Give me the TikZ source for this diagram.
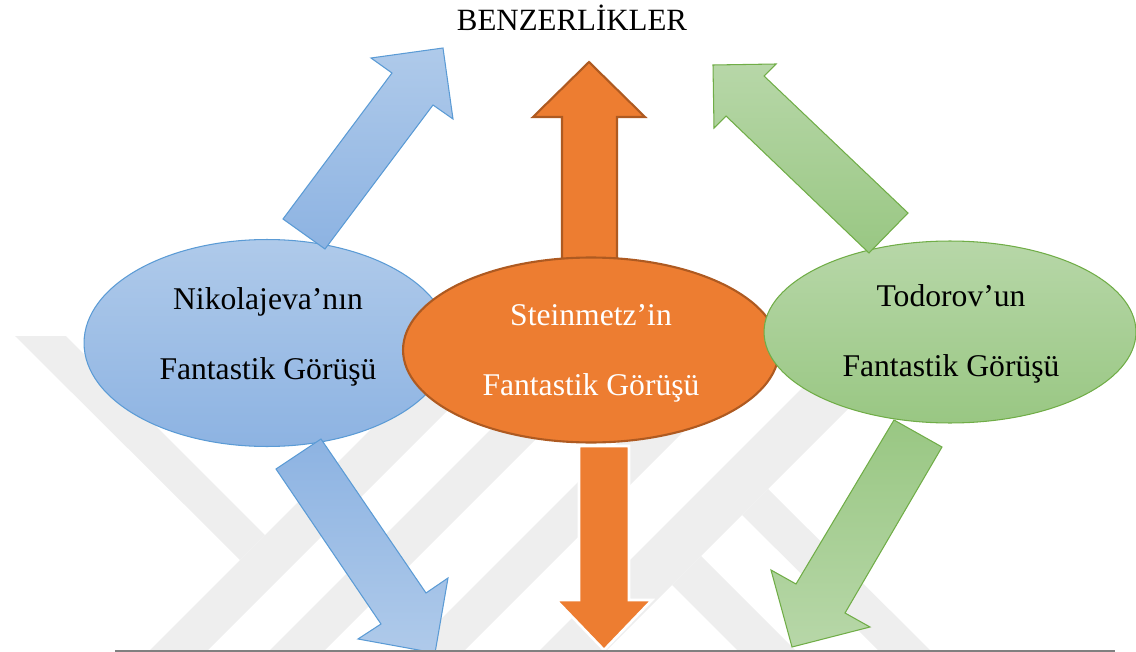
\documentclass[tikz,border=0pt]{standalone}
\usepackage{fontspec}
\setmainfont{Liberation Serif}
\usepackage{tikz}
\usetikzlibrary{shapes.geometric}

\definecolor{blueLight}{HTML}{AFCAEA}
\definecolor{blueDark}{HTML}{8DB3E2}
\definecolor{blueLine}{HTML}{5B9BD5}
\definecolor{greenLight}{HTML}{B7D7A8}
\definecolor{greenDark}{HTML}{99C783}
\definecolor{greenLine}{HTML}{70AD47}
\definecolor{orangeFill}{HTML}{ED7D31}
\definecolor{orangeLine}{HTML}{AE5A21}
\definecolor{wmGray}{HTML}{EEEEEE}
\definecolor{baseGray}{HTML}{808080}

\tikzset{
    wm/.style = {fill = wmGray},
    bubble/.style = {ellipse, inner sep = 0pt},
    lbl/.style = {font = \fontsize{18}{39.8}\selectfont, align = center},
    blueArrow/.style = {draw = blueLine, line width = 0.6pt},
    greenArrow/.style = {draw = greenLine, line width = 0.6pt},
}

\begin{document}
\begin{tikzpicture}[x = 0.02cm, y = -0.02cm]
    \useasboundingbox (0, 0) rectangle (1136, 652);

    % filigran
    \begin{scope}
        \clip (0, 330) rectangle (1136, 652);
        \fill[wm] (15, 336) -- (66, 336) -- (265, 535) -- (240, 560) -- cycle;
        \fill[wm] (470, 330) -- (528, 330) -- (206, 652) -- (148, 652) -- cycle;
        \fill[wm] (590, 330) -- (645, 330) -- (323, 652) -- (268, 652) -- cycle;
        \fill[wm] (730, 330) -- (785, 330) -- (463, 652) -- (408, 652) -- cycle;
        \fill[wm] (860, 330) -- (927, 330) -- (605, 652) -- (538, 652) -- cycle;
        \fill[wm] (672, 585) -- (701, 556) -- (797, 652) -- (739, 652) -- cycle;
        \fill[wm] (742, 515) -- (768, 489) -- (932, 652) -- (880, 652) -- cycle;
    \end{scope}

    \path[draw = orangeLine, fill = orangeFill, line width = 1.2pt]
        (562, 270) -- (562, 117) -- (533, 117) -- (589, 62) -- (645, 117)
        -- (617, 117) -- (617, 270) -- cycle;

    \node[bubble, draw = blueLine, line width = 0.6pt, top color = blueLight,
        bottom color = blueDark, minimum width = 7.32cm,
        minimum height = 4.14cm] (nik) at (267, 343) {};
    \node[bubble, draw = orangeLine, line width = 1.2pt, fill = orangeFill,
        minimum width = 7.52cm, minimum height = 3.7cm] (stein) at (591, 350) {};
    \node[bubble, draw = greenLine, line width = 0.6pt, top color = greenLight,
        bottom color = greenDark, minimum width = 7.44cm,
        minimum height = 3.64cm] (todo) at (950, 332) {};

    \node[lbl] (nikTxt) at (268, 337) {Nikolajeva’nın\\Fantastik Görüşü};
    \node[lbl, white] (steinTxt) at (591, 353) {Steinmetz’in\\Fantastik Görüşü};
    \node[lbl] (todoTxt) at (951, 334) {Todorov’un\\Fantastik Görüşü};

    \node[font = \fontsize{17.6}{22}\selectfont, anchor = base] (title)
        at (572, 31) {BENZERLİKLER};

    \path[blueArrow, top color = blueLight, bottom color = blueDark]
        (283, 219) -- (392, 73) -- (371, 58) -- (443, 48) -- (453, 119)
        -- (433, 105) -- (325, 249) -- cycle;
    \path[blueArrow, top color = blueDark, bottom color = blueLight]
        (321, 439) -- (426, 593) -- (448, 578) -- (435, 653) -- (358, 639)
        -- (381, 624) -- (276, 469) -- cycle;

    \path[greenArrow, top color = greenLight, bottom color = greenDark]
        (713, 65) -- (776, 64) -- (764, 76) -- (908, 213) -- (869, 253)
        -- (726, 116) -- (714, 128) -- cycle;
    \path[greenArrow, top color = greenDark, bottom color = greenLight]
        (894, 420) -- (796, 584) -- (771, 570) -- (792, 647) -- (870, 627)
        -- (845, 613) -- (942, 447) -- cycle;

    \path[draw = white, fill = orangeFill, line width = 1.5pt]
        (579, 446) -- (579, 600) -- (556, 600) -- (604, 650) -- (652, 600)
        -- (629, 600) -- (629, 446) -- cycle;

    \coordinate (lineL) at (115, 651);
    \coordinate (lineR) at (1115, 651);
    \draw[baseGray, line width = 1.2pt] (lineL) -- (lineR);
\end{tikzpicture}
\end{document}
